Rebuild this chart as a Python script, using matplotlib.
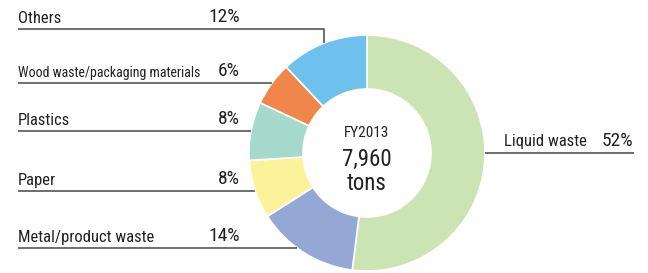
import numpy as np
import matplotlib
matplotlib.use("Agg")
from matplotlib import pyplot as plt

plt.rcParams["font.family"] = ["Roboto Condensed", "DejaVu Sans"]

# data (clockwise from 12 o'clock)
categories = ["Liquid waste", "Metal/product waste", "Paper", "Plastics",
              "Wood waste/packaging materials", "Others"]
shares = [52, 14, 8, 8, 6, 12]
colors = ["#cce3b4", "#95a7d5", "#fbf29a", "#a4d9cb", "#f0864a", "#6ec1ec"]
total_label = ["FY2013", "7,960", "tons"]

W, H = 648, 273
cx, cy = 367, H - 153
r_out, ring = 118, 54

fig = plt.figure(figsize=(W / 100, H / 100), dpi=100)
ax = fig.add_axes([0, 0, 1, 1])
ax.pie(shares, colors=colors, startangle=90, counterclock=False,
       center=(cx, cy), radius=r_out,
       wedgeprops=dict(width=ring, edgecolor="white", linewidth=1.2))
ax.set_xlim(0, W)
ax.set_ylim(0, H)
ax.set_aspect("equal")
ax.axis("off")

line_kw = dict(color="#555555", linewidth=1.2, solid_capstyle="butt")
txt_kw = dict(fontsize=12, color="#222222")
pct_kw = dict(fontsize=14, color="#222222")

# label rows on the left, top-down pixel y of the underline
left_rows = {"Others": 29, "Wood waste/packaging materials": 83,
             "Plastics": 131, "Paper": 191, "Metal/product waste": 248}

angles = 90 - np.cumsum([0] + shares) * 3.6
for i, name in enumerate(categories):
    pct = f"{shares[i]}%"
    if name in left_rows:
        y = H - left_rows[name]
        size = 10 if name.startswith("Wood") else 12
        ax.text(18, y + 6, name, ha="left", va="baseline",
                **{**txt_kw, "fontsize": size})
        ax.text(240, y + 7, pct, ha="right", va="baseline", **pct_kw)
        if name == "Others":
            mid = np.deg2rad((angles[i] + angles[i + 1]) / 2)
            xe = cx + r_out * np.cos(mid)
            ye = cy + r_out * np.sin(mid)
            ax.plot([18, xe, xe], [y, y, ye], **line_kw)
        else:
            xe = cx - np.sqrt(max(r_out ** 2 - (y - cy) ** 2, 0))
            ax.plot([18, xe], [y, y], **line_kw)
    else:
        y = cy
        ax.plot([cx + r_out, 634], [y, y], **line_kw)
        ax.text(504, y + 7, name, ha="left", va="baseline", **txt_kw)
        ax.text(633, y + 7, pct, ha="right", va="baseline", **pct_kw)

ax.text(cx, H - 133, total_label[0], ha="center", va="center",
        fontsize=11, color="#222222")
ax.text(cx, H - 159, total_label[1], ha="center", va="center",
        fontsize=16.5, color="#222222")
ax.text(cx, H - 183, total_label[2], ha="center", va="center",
        fontsize=16.5, color="#222222")

fig.savefig("out.png", dpi=100)
